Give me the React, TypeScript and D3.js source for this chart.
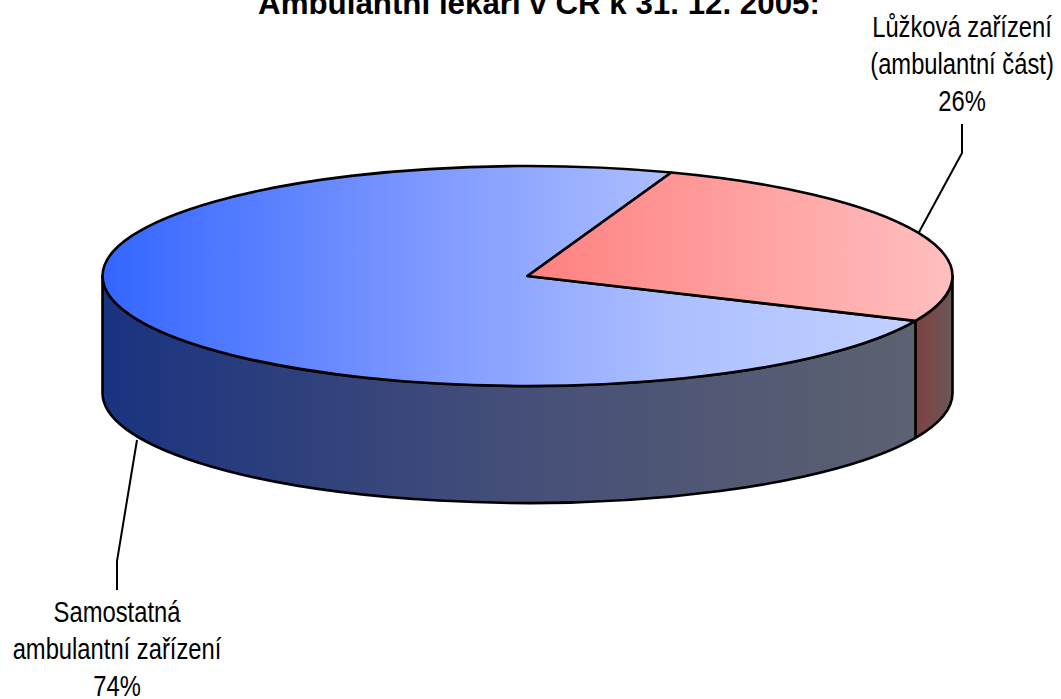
import React from "react";
import * as d3 from "d3";

const categories = ["Samostatná ambulantní zařízení", "Lůžková zařízení (ambulantní část)"];
const shares = [73.8, 26.2];
const labelLinesA = ["Samostatná", "ambulantní zařízení", "74%"];
const labelLinesB = ["Lůžková zařízení", "(ambulantní část)", "26%"];
const titleText = "Ambulantní lékaři v ČR k 31. 12. 2005:";

const CX = 527.5, CY = 276, RX = 425, RY = 110, DEPTH = 117;
const sans = "'Liberation Sans',Arial,sans-serif";

const px = d3.scaleLinear().domain([-1, 1]).range([CX - RX, CX + RX]);
const py = d3.scaleLinear().domain([-1, 1]).range([CY - RY, CY + RY]);
const X = (a: number) => px(Math.sin(a));
const Y = (a: number, d = 0) => py(-Math.cos(a)) + d;

const pie = d3.pie<number>().sort(null).startAngle((114.1 * Math.PI) / 180).endAngle((474.1 * Math.PI) / 180);
const arcs = pie(shares);
const blue = arcs[0];
const red = arcs[1];

const top = (s: d3.PieArcDatum<number>) =>
  `M${CX},${CY}L${X(s.startAngle)},${Y(s.startAngle)}A${RX},${RY} 0 ${s.endAngle - s.startAngle > Math.PI ? 1 : 0} 1 ${X(s.endAngle)},${Y(s.endAngle)}Z`;

// outer wall between two angles, front half only
const wall = (a0: number, a1: number) =>
  `M${X(a0)},${Y(a0)}A${RX},${RY} 0 0 1 ${X(a1)},${Y(a1)}L${X(a1)},${Y(a1, DEPTH)}A${RX},${RY} 0 0 0 ${X(a0)},${Y(a0, DEPTH)}Z`;

const STROKE = { stroke: "#000", strokeWidth: 2.6, strokeLinejoin: "round" as const };

function Grad({ id, x1, x2, stops }: { id: string; x1: number; x2: number; stops: [number, string][] }) {
  return (
    <linearGradient id={id} gradientUnits="userSpaceOnUse" x1={x1} x2={x2} y1={0} y2={0}>
      {stops.map(([o, c]) => <stop key={o} offset={o} stopColor={c} />)}
    </linearGradient>
  );
}

function Label({ lines, x, y }: { lines: string[]; x: number; y: number }) {
  return (
    <g transform={`translate(${x},0) scale(0.82,1)`}>
      <text textAnchor="middle" fontFamily={sans} fontSize={29} fill="#000">
        {lines.map((l, i) => <tspan key={l} x={0} y={y + i * 37}>{l}</tspan>)}
      </text>
    </g>
  );
}

export default function App() {
  const lineA = d3.line()([[137, 440], [117, 561], [117, 590]]);
  const lineB = d3.line()([[918, 234], [962, 153], [962, 124]]);
  return (
    <svg width={1061} height={699} style={{ position: "absolute", left: 0, top: 0 }} aria-label={categories.join(", ")}>
      <defs>
        <Grad id="gBlue" x1={103} x2={915} stops={[[0, "#3366ff"], [0.4, "#7f99ff"], [0.7, "#adbfff"], [1, "#c2d1ff"]]} />
        <Grad id="gRed" x1={528} x2={953} stops={[[0, "#ff8080"], [1, "#ffbfbf"]]} />
        <Grad id="gBlueSide" x1={103} x2={915} stops={[[0, "#1a3380"], [0.52, "#464f78"], [1, "#5c6270"]]} />
        <Grad id="gRedSide" x1={915} x2={953} stops={[[0, "#804040"], [1, "#685858"]]} />
      </defs>
      <path d={lineA ?? ""} fill="none" stroke="#000" strokeWidth={2} />
      <path d={lineB ?? ""} fill="none" stroke="#000" strokeWidth={2} />
      <path d={wall(Math.PI / 2, blue.startAngle)} fill="url(#gRedSide)" {...STROKE} />
      <path d={wall(blue.startAngle, (3 * Math.PI) / 2)} fill="url(#gBlueSide)" {...STROKE} />
      <path d={top(blue)} fill="url(#gBlue)" {...STROKE} />
      <path d={top(red)} fill="url(#gRed)" {...STROKE} />
      <text x={539} y={14} textAnchor="middle" fontFamily={sans} fontWeight="bold" fontSize={31.3} fill="#000">{titleText}</text>
      <Label lines={labelLinesB} x={962} y={37} />
      <Label lines={labelLinesA} x={117} y={622} />
    </svg>
  );
}
